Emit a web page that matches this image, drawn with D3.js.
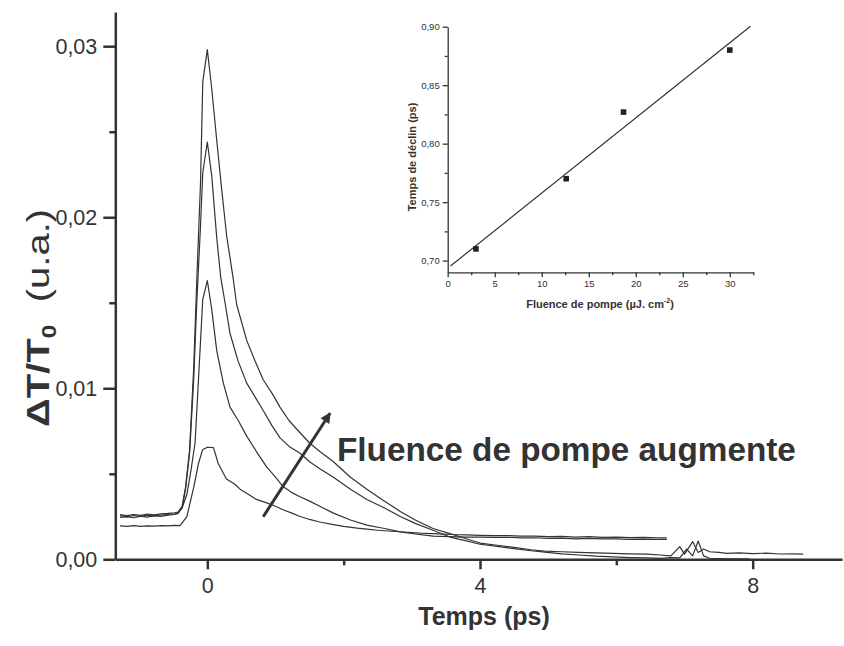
<!DOCTYPE html>
<html>
<head>
<meta charset="utf-8">
<script src="https://cdn.jsdelivr.net/npm/d3@7/dist/d3.min.js"></script>
<style>
html,body{margin:0;padding:0;background:#fff;}
svg{display:block;font-family:"Liberation Sans",Arial,sans-serif;}
</style>
</head>
<body>
<svg id="chart" width="844" height="646"></svg>
<script>
// ---------- DATA (main plot: time in ps, ΔT/T0) ----------
const seriesA = [[-1.28,0.00195],[-1.18,0.00192],[-1.08,0.00197],[-0.98,0.00193],[-0.88,0.00196],[-0.78,0.00194],[-0.68,0.00197],[-0.58,0.00195],[-0.48,0.00198],[-0.40,0.00197],[-0.30,0.0025],[-0.20,0.0042],[-0.13,0.0056],[-0.07,0.0064],[0.0,0.00655],[0.09,0.00653],[0.16,0.0056],[0.28,0.0047],[0.40,0.0044],[0.48,0.0041],[0.60,0.0038],[0.72,0.0035],[0.87,0.0033],[1.0,0.0031],[1.11,0.0029],[1.24,0.0027],[1.36,0.0025],[1.5,0.00233],[1.65,0.00218],[1.85,0.00203],[2.0,0.00193],[2.2,0.00182],[2.34,0.00176],[2.5,0.0017],[2.7,0.00164],[2.83,0.00161],[3.0,0.00156],[3.2,0.00151],[3.4,0.00149],[3.6,0.00145],[3.8,0.00143],[4.0,0.0014],[4.2,0.00138],[4.4,0.00139],[4.6,0.00135],[4.8,0.00136],[5.0,0.00132],[5.2,0.00134],[5.4,0.0013],[5.6,0.00132],[5.8,0.00128],[6.0,0.0013],[6.2,0.00127],[6.4,0.00128],[6.6,0.00126],[6.74,0.00125]];
const seriesB = [[-1.28,0.00245],[-1.18,0.0025],[-1.08,0.00243],[-0.98,0.00252],[-0.88,0.00247],[-0.78,0.00255],[-0.68,0.00251],[-0.58,0.00258],[-0.48,0.00262],[-0.43,0.00268],[-0.37,0.003],[-0.30,0.0038],[-0.24,0.0052],[-0.18,0.0068],[-0.13,0.0105],[-0.067,0.0152],[0.0,0.0163],[0.065,0.0146],[0.138,0.0122],[0.235,0.0103],[0.333,0.0089],[0.455,0.0081],[0.578,0.0072],[0.72,0.0063],[0.87,0.0054],[1.0,0.0048],[1.11,0.00425],[1.24,0.0039],[1.36,0.00366],[1.5,0.0034],[1.65,0.0031],[1.85,0.0027],[2.1,0.0023],[2.34,0.0020],[2.6,0.0018],[2.83,0.0016],[3.05,0.00148],[3.31,0.00135],[3.55,0.00132],[3.8,0.0013],[4.0,0.0013],[4.2,0.00128],[4.4,0.00129],[4.6,0.00125],[4.8,0.00126],[5.0,0.00122],[5.2,0.00124],[5.4,0.0012],[5.6,0.00122],[5.8,0.00119],[6.0,0.0012],[6.2,0.00117],[6.4,0.00118],[6.6,0.00116],[6.74,0.00116]];
const seriesC = [[-1.28,0.00255],[-1.18,0.00248],[-1.08,0.00256],[-0.98,0.0025],[-0.88,0.00258],[-0.78,0.00252],[-0.68,0.00259],[-0.58,0.00262],[-0.48,0.00265],[-0.43,0.0027],[-0.37,0.003],[-0.32,0.0041],[-0.26,0.0062],[-0.20,0.0105],[-0.155,0.015],[-0.10,0.0195],[-0.067,0.0226],[0.0,0.0244],[0.065,0.0224],[0.138,0.0188],[0.196,0.0165],[0.26,0.0150],[0.333,0.0132],[0.45,0.0116],[0.578,0.0103],[0.70,0.0095],[0.82,0.0087],[0.95,0.0078],[1.066,0.0071],[1.2,0.0066],[1.36,0.0062],[1.5,0.0057],[1.65,0.0053],[1.85,0.0048],[2.1,0.0041],[2.34,0.0035],[2.6,0.0030],[2.83,0.0025],[3.05,0.0021],[3.31,0.0017],[3.56,0.0013],[3.8,0.00108],[4.0,0.00088],[4.25,0.00076],[4.5,0.00062],[4.75,0.0005],[4.95,0.00042],[5.2,0.00032],[5.45,0.00025],[5.7,0.00018],[5.95,0.00014],[6.2,0.0001],[6.45,0.00008],[6.64,0.00005],[6.8,0.0001],[6.93,0.00008],[7.03,0.0006],[7.12,0.0002],[7.2,0.00107],[7.28,0.0002],[7.37,0.00006],[7.5,0.00004],[7.65,0.00003],[7.8,0.00002],[7.95,0.00002]];
const seriesD = [[-1.28,0.00262],[-1.18,0.00255],[-1.08,0.00262],[-0.98,0.00257],[-0.88,0.00265],[-0.78,0.0026],[-0.68,0.00266],[-0.58,0.00268],[-0.48,0.00272],[-0.43,0.00276],[-0.37,0.0031],[-0.32,0.0042],[-0.26,0.0064],[-0.20,0.0112],[-0.155,0.0163],[-0.10,0.022],[-0.067,0.0279],[0.0,0.0298],[0.065,0.0275],[0.138,0.0245],[0.211,0.0216],[0.284,0.0189],[0.38,0.0164],[0.43,0.0149],[0.578,0.0128],[0.70,0.0116],[0.82,0.0105],[0.95,0.0097],[1.066,0.0089],[1.2,0.0081],[1.36,0.0074],[1.5,0.0068],[1.65,0.0063],[1.85,0.0057],[2.1,0.0048],[2.34,0.0041],[2.6,0.0034],[2.83,0.0028],[3.05,0.0023],[3.31,0.0018],[3.56,0.0015],[3.8,0.0012],[4.0,0.00095],[4.25,0.00082],[4.5,0.0007],[4.75,0.00056],[4.95,0.00048],[5.2,0.00044],[5.45,0.0004],[5.7,0.00038],[5.95,0.00035],[6.2,0.00032],[6.45,0.0003],[6.64,0.00025],[6.8,0.0002],[6.93,0.00074],[7.0,0.0003],[7.12,0.00103],[7.2,0.0004],[7.28,0.0006],[7.37,0.00044],[7.5,0.0004],[7.62,0.00035],[7.8,0.00037],[8.0,0.00033],[8.2,0.00036],[8.4,0.00031],[8.6,0.00032],[8.74,0.0003]];
const mainXTicks = [0, 4, 8];
const mainXMinor = [2, 6];
const mainYTicks = [0, 0.01, 0.02, 0.03];
const mainYTickLabels = ["0,00", "0,01", "0,02", "0,03"];
const mainYMinor = [0.005, 0.015, 0.025];

// ---------- DATA (inset) ----------
const fluence = [3, 12.6, 18.7, 30];
const decayTime = [0.71, 0.77, 0.827, 0.88];
const insetXTicks = [0, 5, 10, 15, 20, 25, 30];
const insetXMinor = [2.5, 7.5, 12.5, 17.5, 22.5, 27.5, 32.5];
const insetYTicks = [0.70, 0.75, 0.80, 0.85, 0.90];
const insetYTickLabels = ["0,70", "0,75", "0,80", "0,85", "0,90"];
const insetYMinor = [0.725, 0.775, 0.825, 0.875];
const fitRange = [0.3, 32.2];

const INK = "#333";
const svg = d3.select("#chart");

// ---------- MAIN PLOT ----------
const x = d3.scaleLinear().domain([-1.35, 9.31]).range([115.3, 842]);
const y = d3.scaleLinear().domain([0, 0.032]).range([559.3, 12]);

const line = d3.line().x(d => x(d[0])).y(d => y(d[1]));
[seriesA, seriesB, seriesC, seriesD].forEach(s => {
  svg.append("path").datum(s).attr("d", line)
    .attr("fill", "none").attr("stroke", INK).attr("stroke-width", 1.2)
    .attr("stroke-linejoin", "round");
});

function styleAxis(g, w) {
  g.selectAll(".domain").attr("stroke", INK).attr("stroke-width", w);
  g.selectAll(".tick line").attr("stroke", INK).attr("stroke-width", w);
  g.selectAll(".tick text").attr("fill", INK);
}

const gx = svg.append("g").attr("transform", `translate(0,${y(0)})`)
  .call(d3.axisBottom(x).tickValues(mainXTicks).tickSize(10).tickSizeOuter(0).tickPadding(8).tickFormat(d3.format("d")));
gx.selectAll("text").attr("font-size", 21.5);
styleAxis(gx, 2.5);
const gxm = svg.append("g").attr("transform", `translate(0,${y(0)})`)
  .call(d3.axisBottom(x).tickValues(mainXMinor).tickSize(6).tickFormat(""));
gxm.select(".domain").remove();
styleAxis(gxm, 2.5);

const gy = svg.append("g").attr("transform", `translate(${x.range()[0]},0)`)
  .call(d3.axisLeft(y).tickValues(mainYTicks).tickSize(12).tickSizeOuter(0).tickPadding(6)
    .tickFormat((d, i) => mainYTickLabels[i]));
gy.selectAll("text").attr("font-size", 21.5);
styleAxis(gy, 2.5);
const gym = svg.append("g").attr("transform", `translate(${x.range()[0]},0)`)
  .call(d3.axisLeft(y).tickValues(mainYMinor).tickSize(6).tickFormat(""));
gym.select(".domain").remove();
styleAxis(gym, 2.5);

// axis titles
svg.append("text").attr("x", 484).attr("y", 625).attr("text-anchor", "middle")
  .attr("font-size", 25).attr("font-weight", "bold").attr("fill", INK).text("Temps (ps)");

const yl = svg.append("text").attr("transform", "translate(49,318) rotate(-90) scale(1.25,1)")
  .attr("text-anchor", "middle").attr("font-size", 32).attr("fill", INK);
yl.append("tspan").attr("font-weight", "bold").text("ΔT/T");
yl.append("tspan").attr("font-weight", "bold").attr("font-size", 20).attr("dy", 7).text("0");
yl.append("tspan").attr("dy", -7).text("\u00a0\u00a0(u.a.)");

// annotation arrow
const defs = svg.append("defs");
defs.append("marker").attr("id", "ah").attr("viewBox", "0 0 10 10").attr("refX", 9).attr("refY", 5)
  .attr("markerWidth", 4.5).attr("markerHeight", 3.5).attr("orient", "auto")
  .attr("markerUnits", "strokeWidth")
  .append("path").attr("d", "M0,0 L10,5 L0,10 z").attr("fill", INK);
svg.append("line").attr("x1", x(0.82)).attr("y1", y(0.00249)).attr("x2", x(1.8)).attr("y2", y(0.00854))
  .attr("stroke", INK).attr("stroke-width", 3).attr("marker-end", "url(#ah)");
svg.append("text").attr("x", 337).attr("y", 461).attr("font-size", 33.3).attr("font-weight", "bold")
  .attr("fill", INK).text("Fluence de pompe augmente");

// ---------- INSET ----------
const ix = d3.scaleLinear().domain([0, 32.5]).range([447.7, 753.3]);
const iy = d3.scaleLinear().domain([0.69, 0.90]).range([272.3, 26.7]);

const igx = svg.append("g").attr("transform", `translate(0,${iy.range()[0]})`)
  .call(d3.axisBottom(ix).tickValues(insetXTicks).tickSize(5).tickSizeOuter(0).tickPadding(3).tickFormat(d3.format("d")));
igx.selectAll("text").attr("font-size", 9.5);
styleAxis(igx, 1.3);
const igxm = svg.append("g").attr("transform", `translate(0,${iy.range()[0]})`)
  .call(d3.axisBottom(ix).tickValues(insetXMinor).tickSize(3).tickFormat(""));
igxm.select(".domain").remove();
styleAxis(igxm, 1.3);

const igy = svg.append("g").attr("transform", `translate(${ix.range()[0]},0)`)
  .call(d3.axisLeft(iy).tickValues(insetYTicks).tickSize(5).tickSizeOuter(0).tickPadding(3)
    .tickFormat((d, i) => insetYTickLabels[i]));
igy.selectAll("text").attr("font-size", 9.5);
styleAxis(igy, 1.3);
const igym = svg.append("g").attr("transform", `translate(${ix.range()[0]},0)`)
  .call(d3.axisLeft(iy).tickValues(insetYMinor).tickSize(3).tickFormat(""));
igym.select(".domain").remove();
styleAxis(igym, 1.3);

// linear fit computed from the points
const mx = d3.mean(fluence), my = d3.mean(decayTime);
const sxy = d3.sum(fluence, (v, i) => (v - mx) * (decayTime[i] - my));
const sxx = d3.sum(fluence, v => (v - mx) * (v - mx));
const slope = sxy / sxx, intercept = my - slope * mx;
svg.append("line")
  .attr("x1", ix(fitRange[0])).attr("y1", iy(intercept + slope * fitRange[0]))
  .attr("x2", ix(fitRange[1])).attr("y2", iy(intercept + slope * fitRange[1]))
  .attr("stroke", INK).attr("stroke-width", 1.2);

const pts = fluence.map((f, i) => [f, decayTime[i]]);
svg.selectAll("rect.pt").data(pts).enter().append("rect").attr("class", "pt")
  .attr("x", d => ix(d[0]) - 2.8).attr("y", d => iy(d[1]) - 2.8)
  .attr("width", 5.6).attr("height", 5.6).attr("fill", "#222");

svg.append("text").attr("x", 600).attr("y", 308).attr("text-anchor", "middle")
  .attr("font-size", 11).attr("font-weight", "bold").attr("fill", INK)
  .call(t => {
    t.append("tspan").text("Fluence de pompe (µJ. cm");
    t.append("tspan").attr("font-size", 7).attr("dy", -5).text("-2");
    t.append("tspan").attr("dy", 5).text(")");
  });
svg.append("text").attr("transform", "translate(416,157) rotate(-90)").attr("text-anchor", "middle")
  .attr("font-size", 11).attr("font-weight", "bold").attr("fill", INK).text("Temps de déclin (ps)");
</script>
</body>
</html>
